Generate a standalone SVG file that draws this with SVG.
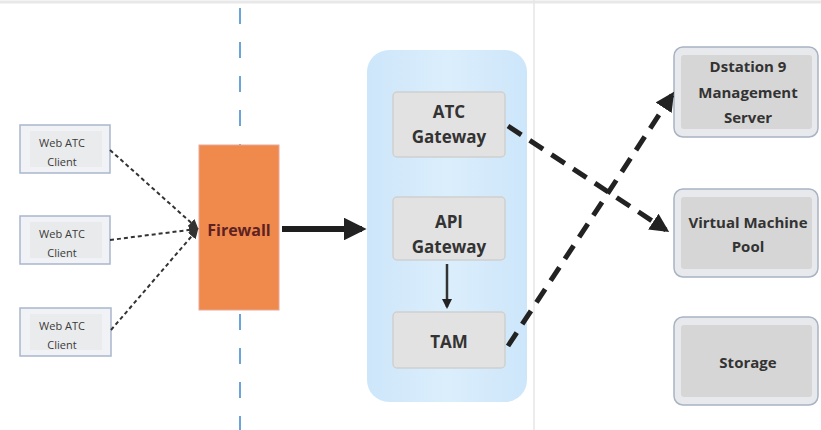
<svg xmlns="http://www.w3.org/2000/svg" width="821" height="430" viewBox="0 0 821 430">
<defs>
<style>
.client rect.o{fill:#f1f2f5;stroke:#a9b6cc;stroke-width:1.5}
.client rect.i{fill:#e4e4e4}
.client text{font-family:"Open Sans","Noto Sans",sans-serif;font-size:11px;fill:#3a3a3a;text-anchor:middle}
.gw rect.o{fill:#e2e2e2;stroke:#d0d0d0;stroke-width:1.5}
.gw text,.srv text{font-family:"Open Sans","Noto Sans",sans-serif;font-weight:bold;fill:#333;text-anchor:middle}
.gw text{font-size:17px}
.srv rect.o{fill:#e7e9ed;stroke:#a9b3c3;stroke-width:1.5}
.srv rect.i{fill:#d6d6d6}
.srv text{font-size:15px}
.thin{fill:none;stroke:#333;stroke-width:2;stroke-dasharray:4 3}
.thick{fill:none;stroke:#222;stroke-width:5;stroke-dasharray:16 10}
</style>
<linearGradient id="bluebg" x1="0" y1="0" x2="1" y2="0">
<stop offset="0" stop-color="#cde6fa"/>
<stop offset="0.5" stop-color="#dbeefc"/>
<stop offset="1" stop-color="#cde6fa"/>
</linearGradient>
<marker id="ah" viewBox="0 0 10 10" refX="8" refY="5" markerWidth="4" markerHeight="4" orient="auto">
<path d="M0,0 L10,5 L0,10 z" fill="#222"/>
</marker>
<marker id="ahs" viewBox="0 0 10 10" refX="8" refY="5" markerWidth="3.8" markerHeight="3.8" orient="auto">
<path d="M0,0 L10,5 L0,10 z" fill="#222"/>
</marker>
<marker id="ahl" viewBox="0 0 10 10" refX="8" refY="5" markerWidth="5" markerHeight="5" orient="auto">
<path d="M0,0 L10,5 L0,10 z" fill="#333"/>
</marker>
</defs>
<rect width="821" height="430" fill="#ffffff"/>
<line x1="0" y1="2" x2="821" y2="2" stroke="#e8e8e8" stroke-width="3"/>
<line x1="534" y1="0" x2="534" y2="430" stroke="#e6e6e6" stroke-width="1.5"/>
<line x1="240" y1="8" x2="240" y2="430" stroke="#5b9bd5" stroke-width="1.8" stroke-dasharray="16 18"/>

<g id="container">
<rect x="367" y="50" width="160" height="352" rx="22" fill="url(#bluebg)"/>
</g>

<g id="client1" class="client">
<rect class="o" x="20" y="125" width="90" height="48"/>
<rect class="i" x="30" y="131" width="72" height="36" opacity="0.5"/>
<text x="62" y="147">Web ATC</text>
<text x="62" y="166">Client</text>
</g>
<g id="client2" class="client">
<rect class="o" x="20" y="216" width="90" height="48"/>
<rect class="i" x="30" y="222" width="72" height="36" opacity="0.6"/>
<text x="62" y="238">Web ATC</text>
<text x="62" y="257">Client</text>
</g>
<g id="client3" class="client">
<rect class="o" x="20" y="308" width="91" height="48"/>
<rect class="i" x="30" y="314" width="72" height="36" opacity="0.5"/>
<text x="62" y="330">Web ATC</text>
<text x="62" y="349">Client</text>
</g>

<g id="firewall">
<rect x="199" y="145" width="80" height="165" fill="#ef8a4c" stroke="#e8a898" stroke-width="1"/>
<text x="239" y="236" font-family="Open Sans, Noto Sans, sans-serif" font-weight="bold" font-size="16" fill="#5e2222" text-anchor="middle">Firewall</text>
</g>

<g id="atc-gateway" class="gw">
<rect class="o" x="393" y="92" width="112" height="65" rx="4"/>
<text x="449" y="118">ATC</text>
<text x="449" y="143">Gateway</text>
</g>
<g id="api-gateway" class="gw">
<rect class="o" x="393" y="197" width="112" height="63" rx="4"/>
<text x="449" y="228">API</text>
<text x="449" y="253">Gateway</text>
</g>
<g id="tam" class="gw">
<rect class="o" x="393" y="312" width="112" height="56" rx="4"/>
<text x="449" y="348">TAM</text>
</g>

<g id="dstation" class="srv">
<rect class="o" x="674" y="47" width="144" height="90" rx="9"/>
<rect class="i" x="681" y="55" width="131" height="74" rx="3"/>
<text x="748" y="72">Dstation 9</text>
<text x="748" y="98">Management</text>
<text x="748" y="123">Server</text>
</g>
<g id="vmpool" class="srv">
<rect class="o" x="674" y="189" width="144" height="88" rx="9"/>
<rect class="i" x="681" y="197" width="131" height="72" rx="3"/>
<text x="748" y="228">Virtual Machine</text>
<text x="748" y="252">Pool</text>
</g>
<g id="storage" class="srv">
<rect class="o" x="674" y="317" width="144" height="88" rx="9"/>
<rect class="i" x="681" y="325" width="131" height="72" rx="3"/>
<text x="748" y="368">Storage</text>
</g>

<g id="connectors">
<line class="thin" x1="110" y1="150" x2="197" y2="228" marker-end="url(#ahl)"/>
<line class="thin" x1="110" y1="240" x2="197" y2="229" marker-end="url(#ahl)"/>
<line class="thin" x1="111" y1="330" x2="197" y2="230" marker-end="url(#ahl)"/>
<line x1="282" y1="229" x2="362" y2="229" stroke="#1e1e1e" stroke-width="6" marker-end="url(#ahs)"/>
<line x1="447" y1="264" x2="447" y2="307" stroke="#333" stroke-width="2.5" marker-end="url(#ah)"/>
<line class="thick" x1="508" y1="126" x2="666" y2="230" marker-end="url(#ahs)"/>
<line class="thick" x1="508" y1="346" x2="672" y2="95" marker-end="url(#ahs)"/>
</g>
</svg>
